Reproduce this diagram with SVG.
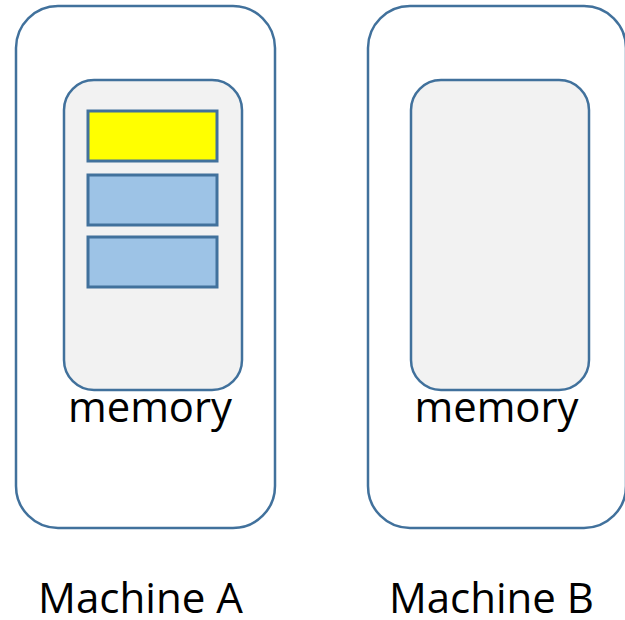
<svg xmlns="http://www.w3.org/2000/svg" width="625" height="620" viewBox="0 0 625 620">
  <style>
    .machine { fill: #ffffff; stroke: #41719c; stroke-width: 2.5; }
    .memory { fill: #f2f2f2; stroke: #41719c; stroke-width: 2.5; }
    .block { stroke: #41719c; stroke-width: 3; }
    .label { font-family: "Open Sans", "Noto Sans", "Liberation Sans", sans-serif; fill: #000000; text-anchor: middle; }
  </style>
  <rect width="625" height="620" fill="#ffffff"/>

  <g id="machine-a">
    <rect class="machine" x="16" y="6" width="259" height="522" rx="42" ry="42"/>
    <g id="memory-a">
      <rect class="memory" x="64" y="80" width="178" height="310" rx="30" ry="30"/>
      <rect class="block" x="88" y="111" width="129" height="50" fill="#ffff00"/>
      <rect class="block" x="88" y="175" width="129" height="50" fill="#9dc3e6"/>
      <rect class="block" x="88" y="237" width="129" height="50" fill="#9dc3e6"/>
      <text class="label" x="150" y="422" font-size="42" textLength="164" lengthAdjust="spacingAndGlyphs">memory</text>
    </g>
    <text class="label" x="140.5" y="613" font-size="42" textLength="205" lengthAdjust="spacingAndGlyphs">Machine A</text>
  </g>

  <g id="machine-b">
    <rect class="machine" x="368" y="6" width="258" height="522" rx="42" ry="42"/>
    <g id="memory-b">
      <rect class="memory" x="411" y="80" width="178" height="310" rx="30" ry="30"/>
      <text class="label" x="496.5" y="422" font-size="42" textLength="164" lengthAdjust="spacingAndGlyphs">memory</text>
    </g>
    <text class="label" x="491.5" y="613" font-size="42" textLength="205" lengthAdjust="spacingAndGlyphs">Machine B</text>
  </g>

  <g id="connectors"/>
</svg>
